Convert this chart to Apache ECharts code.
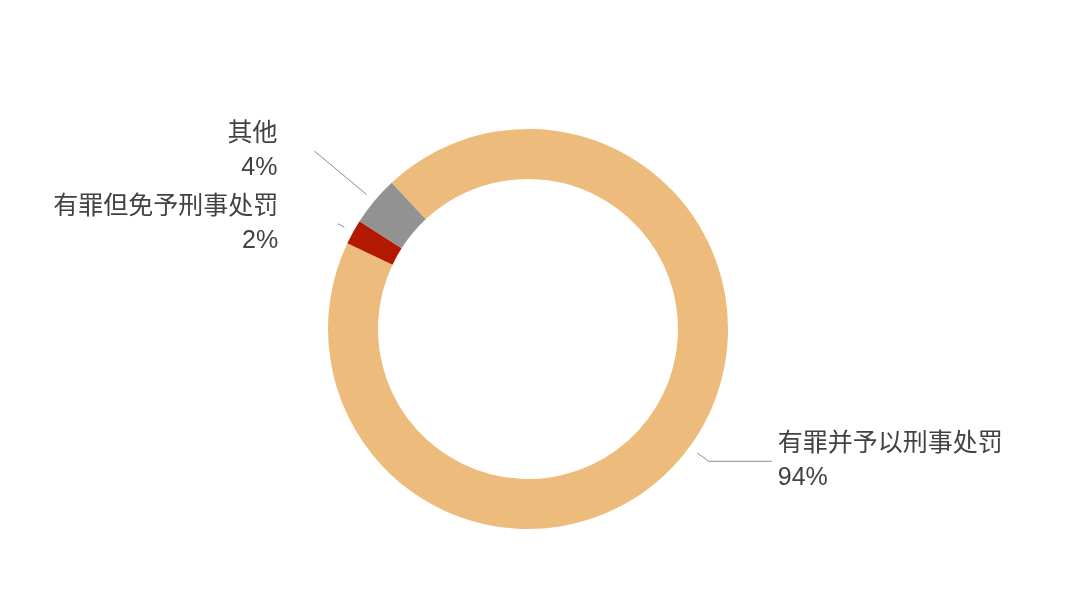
<!DOCTYPE html>
<html>
<head>
<meta charset="utf-8">
<script src="https://cdn.jsdelivr.net/npm/echarts@6/dist/echarts.min.js"></script>
<style>
html,body{margin:0;padding:0;background:#fff;}
#main{width:1080px;height:607px;}
</style>
</head>
<body>
<div id="main"></div>
<script>
const categories = ['有罪并予以刑事处罚', '有罪但免予刑事处罚', '其他'];
const values = [94, 2, 4];
const colors = ['#EDBC7D', '#B31800', '#929292'];
const lineLengths = [24, 17, 78];
const lineLengths2 = [63, 0, 0];
const labelGaps = [6, 60, 37];

const chart = echarts.init(document.getElementById('main'));
chart.setOption({
  backgroundColor: '#ffffff',
  animation: false,
  series: [{
    type: 'pie',
    center: [528, 329],
    radius: [150, 200],
    startAngle: 133,
    clockwise: true,
    avoidLabelOverlap: false,
    label: {
      show: true,
      position: 'outside',
      formatter: '{b}\n{c}%',
      fontFamily: "'Liberation Sans', 'Noto Sans CJK SC', sans-serif",
      fontSize: 25,
      lineHeight: 34,
      color: '#424242'
    },
    labelLine: {
      show: true,
      lineStyle: { color: '#8c8c8c', width: 1 }
    },
    labelLayout: function (params) {
      const p = params.labelLinePoints;
      if (!p || p.length < 2) return {};
      const dx = p[1][0] - p[0][0], dy = p[1][1] - p[0][1];
      const d = Math.hypot(dx, dy) || 1;
      const g = 10;
      const pts = p.map(q => [q[0], q[1]]);
      pts[0] = [p[0][0] + dx / d * g, p[0][1] + dy / d * g];
      return { labelLinePoints: pts };
    },
    emphasis: { disabled: true },
    data: categories.map((name, i) => ({
      name: name,
      value: values[i],
      itemStyle: { color: colors[i] },
      labelLine: { length: lineLengths[i], length2: lineLengths2[i] },
      label: { distanceToLabelLine: labelGaps[i] }
    }))
  }]
});
</script>
</body>
</html>
